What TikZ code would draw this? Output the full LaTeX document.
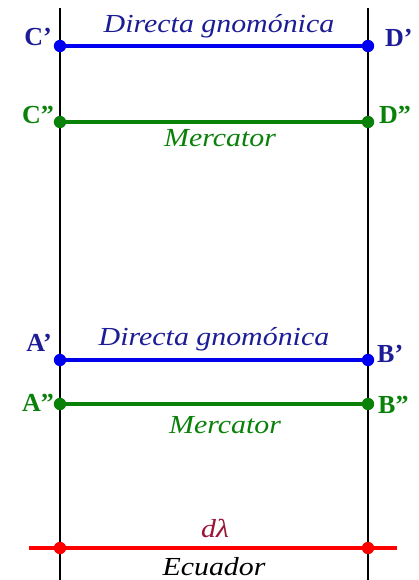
\documentclass[tikz,border=0pt]{standalone}
\usepackage{fontspec}
\setmainfont{Liberation Serif}
\newfontfamily\labfont[FakeStretch=1.15]{Liberation Serif}
\definecolor{navy}{HTML}{1C1C96}
\definecolor{lblue}{HTML}{0000F0}
\definecolor{dgreen}{HTML}{0A820A}
\definecolor{dred}{HTML}{9A1538}
\definecolor{rred}{HTML}{FF0000}
\tikzset{
  vline/.style={line width=1.4pt,black},
  bline/.style={line width=3.2pt,lblue},
  gline/.style={line width=3.2pt,dgreen},
  rline/.style={line width=4pt,rred},
  ptlab/.style={font=\fontsize{26}{30}\selectfont\bfseries,inner sep=0pt},
  curvelab/.style={font=\labfont\fontsize{26}{30}\selectfont\itshape,inner sep=0pt,anchor=base}
}
\begin{document}
\begin{tikzpicture}[x=1pt,y=-1pt]
\useasboundingbox[fill=white] (0,0) rectangle (418,580);
% coordinates
\coordinate (Ltop) at (60,8);
\coordinate (Lbot) at (60,580);
\coordinate (Rtop) at (368,8);
\coordinate (Rbot) at (368,580);
\coordinate (Cp) at (60,46);
\coordinate (Dp) at (368,46);
\coordinate (Cpp) at (60,122);
\coordinate (Dpp) at (368,122);
\coordinate (Ap) at (60,360);
\coordinate (Bp) at (368,360);
\coordinate (App) at (60,404);
\coordinate (Bpp) at (368,404);
\coordinate (Eq1) at (60,548);
\coordinate (Eq2) at (368,548);
\coordinate (EqL) at (29,548);
\coordinate (EqR) at (397,548);
% verticals
\draw[vline] (Ltop) -- (Lbot);
\draw[vline] (Rtop) -- (Rbot);
% horizontals
\draw[bline] (Cp) -- (Dp);
\draw[gline] (Cpp) -- (Dpp);
\draw[bline] (Ap) -- (Bp);
\draw[gline] (App) -- (Bpp);
\draw[rline] (EqL) -- (EqR);
% dots
\foreach \p in {Cp,Dp,Ap,Bp} \fill[lblue] (\p) circle (6.2);
\foreach \p in {Cpp,Dpp,App,Bpp} \fill[dgreen] (\p) circle (6.2);
\foreach \p in {Eq1,Eq2} \fill[rred] (\p) circle (6.2);
% point labels
\node[ptlab,navy,anchor=base east] (lCp) at (52,46) {C'};
\node[ptlab,navy,anchor=base west] (lDp) at (385,47) {D'};
\node[ptlab,dgreen,anchor=base east] (lCpp) at (54,124) {C''};
\node[ptlab,dgreen,anchor=base west] (lDpp) at (379,124) {D''};
\node[ptlab,navy,anchor=base east] (lAp) at (52,351) {A'};
\node[ptlab,navy,anchor=base west] (lBp) at (377,362) {B'};
\node[ptlab,dgreen,anchor=base east] (lApp) at (54,411) {A''};
\node[ptlab,dgreen,anchor=base west] (lBpp) at (378,413) {B''};
% curve labels
\node[curvelab,navy] (t1) at (219,33) {Directa gnomónica};
\node[curvelab,dgreen] (t2) at (220,147) {Mercator};
\node[curvelab,navy] (t3) at (214,345) {Directa gnomónica};
\node[curvelab,dgreen] (t4) at (225,433) {Mercator};
\node[curvelab,dred] (t5) at (215,537) {dλ};
\node[curvelab,black] (t6) at (214,575) {Ecuador};
\end{tikzpicture}
\end{document}
